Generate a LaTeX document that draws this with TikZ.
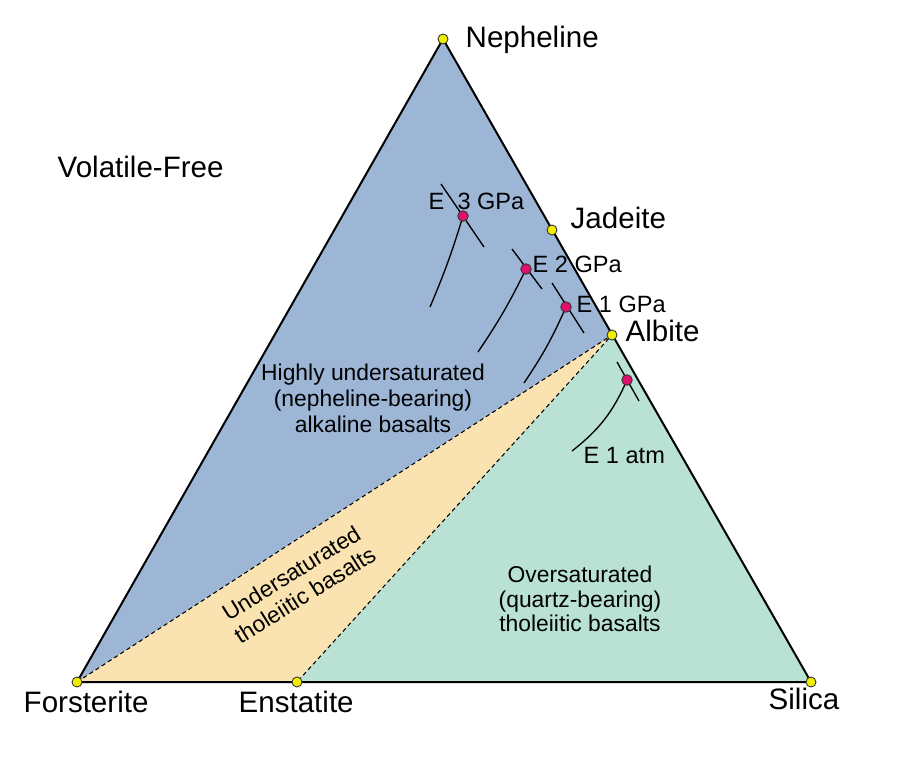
\documentclass[tikz,border=0pt]{standalone}
\usepackage{fontspec}
\setmainfont{Liberation Sans}
\usetikzlibrary{positioning}
\definecolor{alkblue}{HTML}{9DB6D6}
\definecolor{tholtan}{HTML}{FBE3B1}
\definecolor{qzgreen}{HTML}{B9E2D4}
\definecolor{ptyellow}{HTML}{F2EE00}
\definecolor{eutmag}{HTML}{E2106C}

\begin{document}
\begin{tikzpicture}[x=0.01cm,y=-0.01cm,
  ydot/.style={circle,fill=ptyellow,draw=black!80,line width=0.25pt,inner sep=0pt,minimum size=0.1cm},
  edot/.style={circle,fill=eutmag,draw=black!80,line width=0.25pt,inner sep=0pt,minimum size=0.105cm},
  biglbl/.style={font=\fontsize{8.4}{10}\selectfont,inner sep=0pt,anchor=base west},
  elbl/.style={font=\fontsize{6.7}{8}\selectfont,inner sep=0pt,anchor=base west},
  fieldlbl/.style={align=center,inner sep=0pt},
  cotectic/.style={line width=0.38pt}]
  \useasboundingbox (0,0) rectangle (900,775);
  \fill[white] (0,0) rectangle (900,775);

  \coordinate (ne) at (443,39);
  \coordinate (jd) at (552,230);
  \coordinate (ab) at (612,335);
  \coordinate (fo) at (77,682);
  \coordinate (en) at (297,682);
  \coordinate (si) at (811,682);

  \fill[alkblue] (fo) -- (ne) -- (ab) -- cycle;
  \fill[tholtan] (fo) -- (ab) -- (en) -- cycle;
  \fill[qzgreen] (en) -- (ab) -- (si) -- cycle;
  \draw[line width=0.3pt, dash pattern=on 1.2pt off 0.9pt] (fo) -- (ab) -- (en);
  \draw[line width=0.57pt] (fo) -- (ne) -- (si) -- cycle;

  \foreach \n/\px/\py/\ax/\ay/\bx/\by/\cx/\cy/\b in {e3/463/216/441/184/484/247/430/307/3,
      e2/526/269/512/249/542/289/478/352/4,
      e1/566/307/552/283/584/333/524/383/5,
      ea/627/380/617/362/639/401/572/451/14}{
    \draw[cotectic] (\ax,\ay) -- (\bx,\by);
    \draw[cotectic] (\px,\py) to[bend left=\b] (\cx,\cy);
    \node[edot] (\n) at (\px,\py) {};
  }

  \foreach \p in {ne,jd,ab,fo,en,si}
    \node[ydot] (\p dot) at (\p) {};

  \node[biglbl] (nelbl) at (465,47) {Nepheline};
  \node[biglbl] (jdlbl) at (570,228) {Jadeite};
  \node[biglbl] (ablbl) at (625,341) {Albite};
  \node[biglbl] (silbl) at (768,709) {Silica};
  \node[biglbl] (folbl) at (23,712) {Forsterite};
  \node[biglbl] (enlbl) at (238,712) {Enstatite};
  \node[biglbl] (vflbl) at (57,177) {Volatile-Free};

  \node[elbl] (e3lbl) at (428,209) {E\ \ 3 GPa};
  \node[elbl] (e2lbl) at (532,272) {E 2 GPa};
  \node[elbl] (e1lbl) at (576,312) {E 1 GPa};
  \node[elbl] (ealbl) at (583,463) {E 1 atm};

  \node[fieldlbl,font=\fontsize{6.5}{7.4}\selectfont] (alkfield) at (373,398)
    {Highly undersaturated\\(nepheline-bearing)\\alkaline basalts};
  \node[fieldlbl,font=\fontsize{6.5}{6.9}\selectfont] (qzfield) at (580,599)
    {Oversaturated\\(quartz-bearing)\\tholeiitic basalts};
  \node[fieldlbl,font=\fontsize{6.5}{7.3}\selectfont,rotate=32] (thfield) at (298,584)
    {Undersaturated\\tholeiitic basalts};
\end{tikzpicture}
\end{document}
